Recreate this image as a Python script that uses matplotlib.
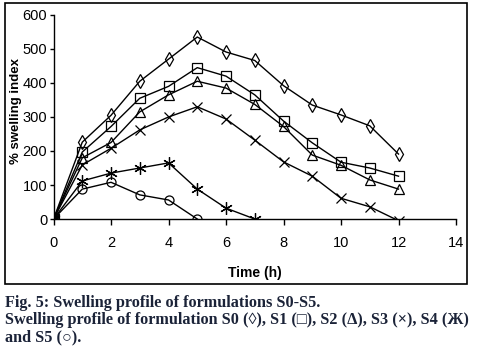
import matplotlib.pyplot as plt
from matplotlib.patches import Rectangle

hours = list(range(0, 13))
s0 = [0, 226, 305, 405, 470, 535, 491, 466, 392, 335, 306, 274, 191]
s1 = [0, 197, 272, 355, 390, 445, 420, 365, 288, 224, 167, 150, 126]
s2 = [0, 180, 225, 315, 365, 405, 385, 337, 272, 188, 158, 115, 88]
s3 = [0, 159, 208, 262, 300, 330, 294, 232, 168, 126, 61, 36, -5]
s4 = [0, 112, 135, 150, 165, 88, 32, 0]
s5 = [0, 88, 108, 71, 56, 0]

series = [
    (s0, 'd', 7),
    (s1, 's', 6.5),
    (s2, '^', 7),
    (s3, 'x', 7),
    (s4, (6, 2, 0), 9),
    (s5, 'o', 6.5),
]

sans = ['Liberation Sans', 'DejaVu Sans']

fig = plt.figure(figsize=(4.78, 3.55), dpi=100)
ax = fig.add_axes([0.112, 0.383, 0.842, 0.575])

for vals, mk, ms in series:
    ax.plot(hours[:len(vals)], vals, color='black', lw=1.0, marker=mk, ms=ms,
            mfc='none', mec='black', mew=0.9)

ax.set_xlim(0, 14)
ax.set_ylim(0, 600)
ax.set_xticks(range(0, 15, 2))
ax.set_yticks(range(0, 601, 100))
for sp in ['top', 'right']:
    ax.spines[sp].set_visible(False)
ax.spines['left'].set_linewidth(1.0)
ax.spines['bottom'].set_linewidth(1.0)
ax.tick_params(axis='y', direction='out', length=3, width=1, labelsize=10.5, pad=1.5)
ax.tick_params(axis='x', direction='out', length=4, width=1, labelsize=10.5, pad=8)
for lab in ax.get_xticklabels() + ax.get_yticklabels():
    lab.set_fontfamily(sans)
ax.set_xlabel('Time (h)', fontsize=10, fontweight='bold', fontfamily=sans, labelpad=12)
ax.set_ylabel('% swelling index', fontsize=9.5, fontweight='bold', fontfamily=sans)
ax.yaxis.set_label_coords(-0.078, 0.53)
ax.patch.set_alpha(0)

fig.patches.append(Rectangle((5 / 478, 1 - 284 / 355), 462 / 478, 281 / 355,
                             transform=fig.transFigure, fill=False, ec='black', lw=1.2))

cap = dict(fontsize=11.7, fontweight='bold', fontfamily='Liberation Serif', color='#1b2338', va='center')
fig.text(5 / 478, 1 - 303 / 355, 'Fig. 5: Swelling profile of formulations S0-S5.', **cap)
fig.text(5 / 478, 1 - 320 / 355,
         'Swelling profile of formulation S0 (\u25ca), S1 (\u25a1), S2 (\u0394), S3 (\u00d7), S4 (\u0416)',
         **cap)
fig.text(5 / 478, 1 - 337 / 355, 'and S5 (\u25cb).', **cap)

fig.savefig('out.png', dpi=100)
